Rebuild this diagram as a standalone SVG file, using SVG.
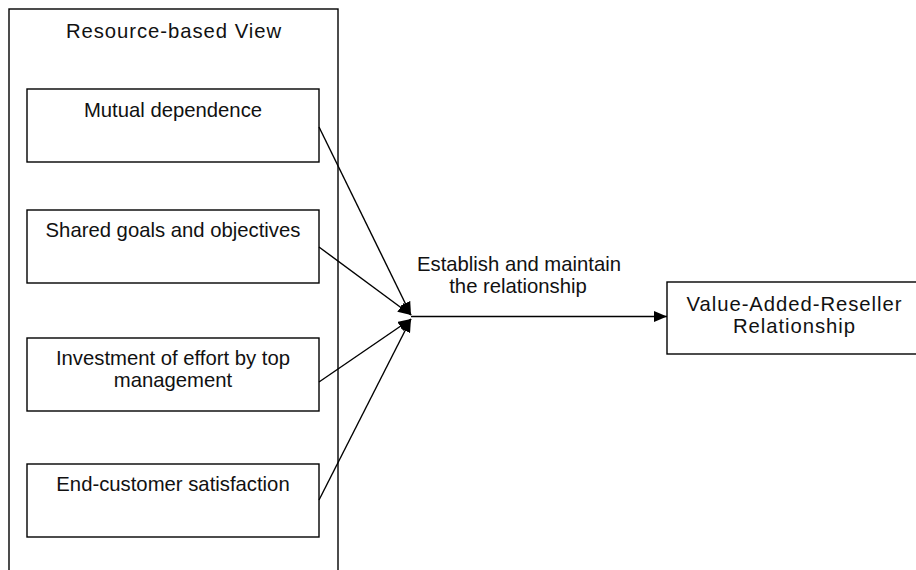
<svg xmlns="http://www.w3.org/2000/svg" width="916" height="570" viewBox="0 0 916 570">
  <style>
    .box { fill: #ffffff; stroke: #000000; stroke-width: 1.4; }
    .lbl { font-family: "Liberation Sans", Arial, sans-serif; font-size: 20.3px; fill: #111111; text-anchor: middle; }
    .big { letter-spacing: 0.95px; }
    .conn { stroke: #000000; stroke-width: 1.4; fill: none; marker-end: url(#arrow); }
  </style>
  <defs>
    <marker id="arrow" markerUnits="userSpaceOnUse" markerWidth="14" markerHeight="12" refX="13" refY="5.5" orient="auto">
      <path d="M0,0 L13,5.5 L0,11 Z" fill="#000000"/>
    </marker>
  </defs>

  <rect width="916" height="570" fill="#ffffff"/>

  <!-- outer container -->
  <g id="resource-based-view">
    <rect class="box" x="9" y="9" width="329" height="575"/>
    <text class="lbl big" x="174" y="37.5">Resource-based View</text>
  </g>

  <g id="mutual-dependence">
    <rect class="box" x="27" y="89" width="292" height="73"/>
    <text class="lbl" x="173" y="117">Mutual dependence</text>
  </g>

  <g id="shared-goals">
    <rect class="box" x="27" y="210" width="292" height="73"/>
    <text class="lbl" x="173" y="237">Shared goals and objectives</text>
  </g>

  <g id="investment-effort">
    <rect class="box" x="27" y="338" width="292" height="73"/>
    <text class="lbl" x="173" y="365">Investment of effort by top</text>
    <text class="lbl" x="173" y="387">management</text>
  </g>

  <g id="end-customer">
    <rect class="box" x="27" y="464" width="292" height="73"/>
    <text class="lbl" x="173" y="491">End-customer satisfaction</text>
  </g>

  <g id="var-relationship">
    <rect class="box" x="667" y="282" width="254" height="72"/>
    <text class="lbl big" x="794.5" y="311">Value-Added-Reseller</text>
    <text class="lbl big" x="794.5" y="333">Relationship</text>
  </g>

  <!-- connectors -->
  <g id="connectors">
    <line class="conn" x1="319" y1="127" x2="411" y2="315"/>
    <line class="conn" x1="319" y1="247" x2="411" y2="315"/>
    <line class="conn" x1="319" y1="382" x2="411" y2="319"/>
    <line class="conn" x1="319" y1="500" x2="411" y2="319"/>
    <line class="conn" x1="411" y1="316.5" x2="667" y2="316.5"/>
    <text class="lbl" x="519" y="271">Establish and maintain</text>
    <text class="lbl" x="518" y="293">the relationship</text>
  </g>
</svg>
